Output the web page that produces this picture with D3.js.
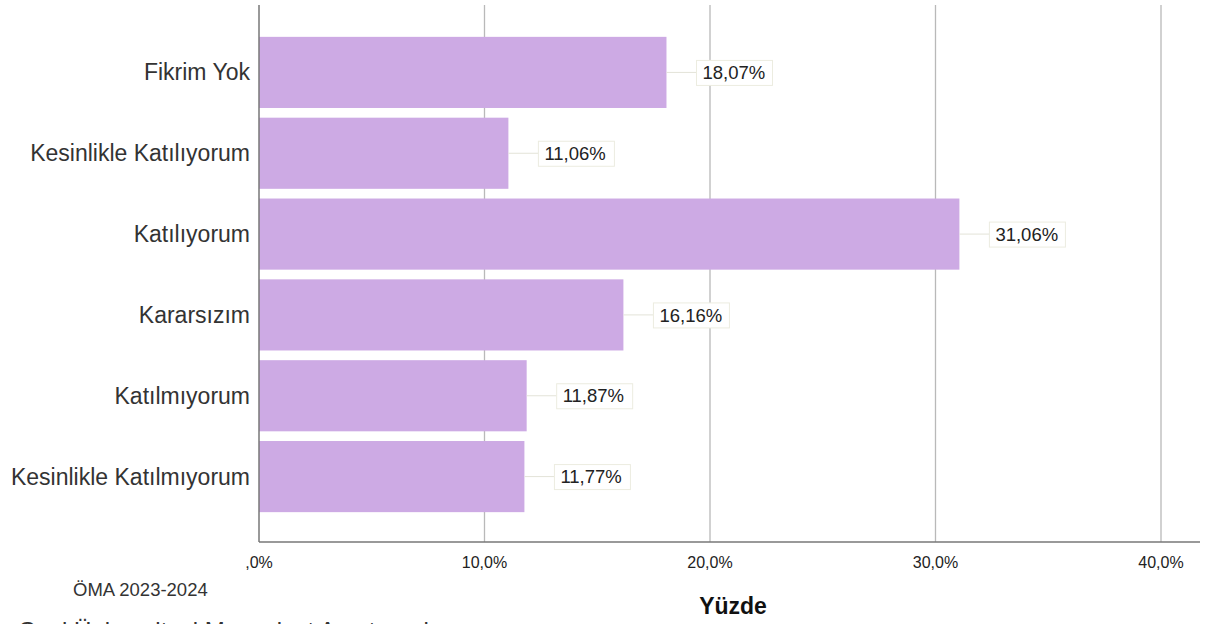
<!DOCTYPE html>
<html>
<head>
<meta charset="utf-8">
<script src="https://cdn.jsdelivr.net/npm/d3@7"></script>
<style>
  body { margin: 0; background: #fff; }
  svg { display: block; }
</style>
</head>
<body>
<svg id="chart"></svg>
<script>
var categories = ["Fikrim Yok", "Kesinlikle Katılıyorum", "Katılıyorum", "Kararsızım", "Katılmıyorum", "Kesinlikle Katılmıyorum"];
var percents = [18.07, 11.06, 31.06, 16.16, 11.87, 11.77];
var xTicks = [0, 10, 20, 30, 40];

var W = 1211, H = 624;
var x0 = 259, pxPer = 22.55;
var axisY = 542;
var font = "'Liberation Sans', Arial, sans-serif";

var svg = d3.select("#chart").attr("width", W).attr("height", H);

var xScale = d3.scaleLinear().domain([0, 42]).range([x0, x0 + 42 * pxPer]);
var yScale = d3.scaleBand().domain(categories).range([32, 517])
    .paddingInner(0.12).paddingOuter(0.06);

// gridlines
svg.selectAll(".grid")
    .data(xTicks.slice(1))
    .enter().append("line")
    .attr("x1", function (d) { return xScale(d); })
    .attr("x2", function (d) { return xScale(d); })
    .attr("y1", 5)
    .attr("y2", axisY)
    .attr("stroke", "#b9b9b9")
    .attr("stroke-width", 1.3);

// bars
svg.selectAll(".bar")
    .data(percents)
    .enter().append("rect")
    .attr("x", xScale(0))
    .attr("y", function (d, i) { return yScale(categories[i]); })
    .attr("width", function (d) { return xScale(d) - xScale(0); })
    .attr("height", yScale.bandwidth())
    .attr("fill", "#cdaae4");

// axes lines
svg.append("line").attr("x1", x0).attr("x2", x0).attr("y1", 5).attr("y2", axisY)
    .attr("stroke", "#777").attr("stroke-width", 1.5);
svg.append("line").attr("x1", x0).attr("x2", 1200).attr("y1", axisY).attr("y2", axisY)
    .attr("stroke", "#777").attr("stroke-width", 1.5);

// x tick labels
svg.selectAll(".xt")
    .data(xTicks)
    .enter().append("text")
    .attr("x", function (d) { return xScale(d); })
    .attr("y", 568)
    .attr("text-anchor", "middle")
    .style("font-family", font)
    .style("font-size", "16px")
    .attr("fill", "#222")
    .text(function (d) { return d === 0 ? ",0%" : d + ",0%"; });

// category labels
svg.selectAll(".cat")
    .data(categories)
    .enter().append("text")
    .attr("x", 250)
    .attr("y", function (d) { return yScale(d) + yScale.bandwidth() / 2; })
    .attr("dy", "0.35em")
    .attr("text-anchor", "end")
    .style("font-family", font)
    .style("font-size", "23px")
    .attr("fill", "#333")
    .text(function (d) { return d; });

// value labels
var lab = svg.selectAll(".val")
    .data(percents)
    .enter().append("g")
    .attr("transform", function (d, i) {
        return "translate(" + xScale(d) + "," + (yScale(categories[i]) + yScale.bandwidth() / 2) + ")";
    });
lab.append("line").attr("x1", 0).attr("x2", 30).attr("y1", 0).attr("y2", 0)
    .attr("stroke", "#e3e3d8").attr("stroke-width", 1);
lab.append("rect").attr("x", 30).attr("y", -12).attr("width", 76).attr("height", 25)
    .attr("fill", "#fff").attr("stroke", "#ecece0").attr("stroke-width", 1);
lab.append("text")
    .attr("x", 36).attr("y", 0).attr("dy", "0.36em")
    .style("font-family", font)
    .style("font-size", "18.5px")
    .attr("fill", "#222")
    .text(function (d) { return d.toFixed(2).replace(".", ",") + "%"; });

// axis title
svg.append("text").attr("x", 733).attr("y", 614).attr("text-anchor", "middle")
    .style("font-family", font)
    .style("font-size", "23px").style("font-weight", "bold").attr("fill", "#111")
    .text("Yüzde");

// footnotes
svg.append("text").attr("x", 73).attr("y", 596)
    .style("font-family", font)
    .style("font-size", "18.5px").attr("fill", "#333")
    .text("ÖMA 2023-2024");
svg.append("text").attr("x", 18).attr("y", 639)
    .style("font-family", font)
    .style("font-size", "24px").attr("fill", "#333")
    .text("Gazi Üniversitesi Mezuniyet Araştırmaları");
</script>
</body>
</html>
